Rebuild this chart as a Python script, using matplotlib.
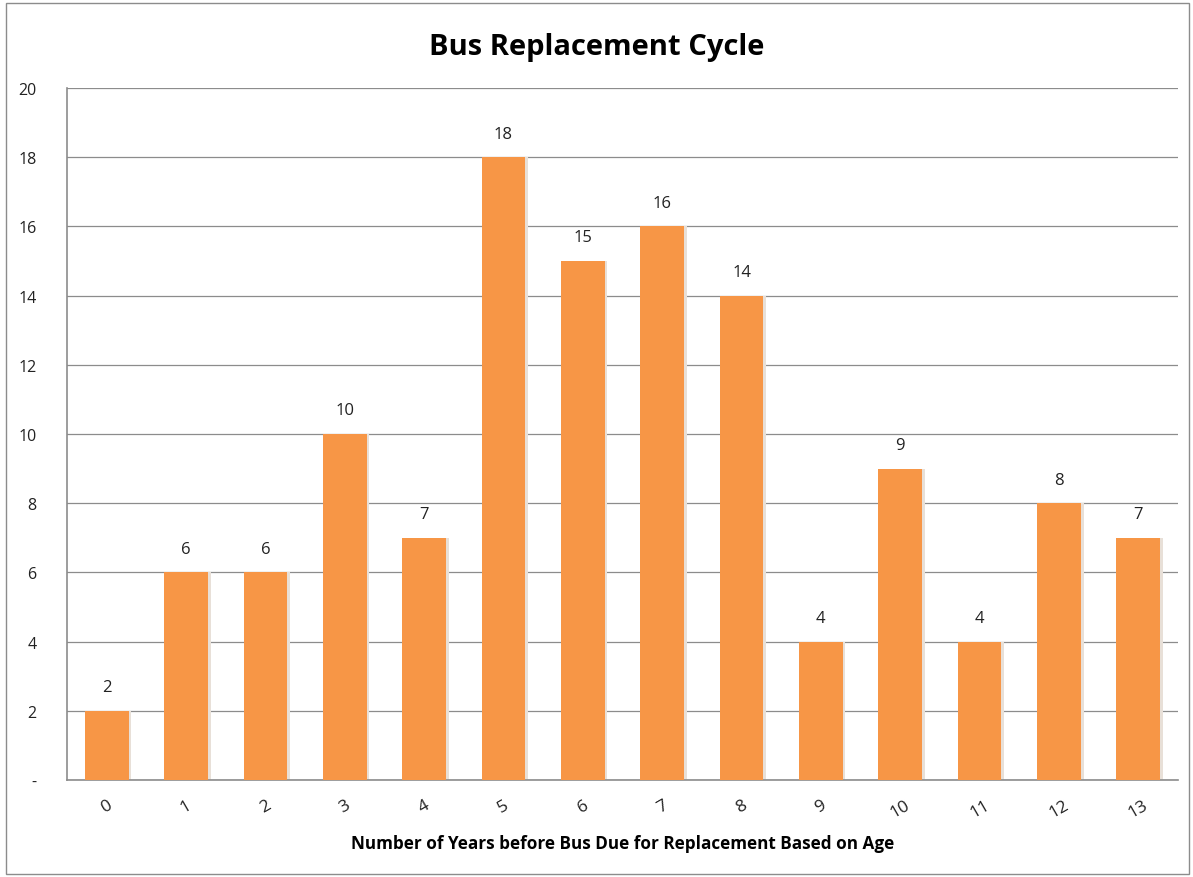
import numpy as np
import matplotlib.pyplot as plt
from matplotlib.patches import Rectangle

# years until due for replacement, and bus counts
years = ['0', '1', '2', '3', '4', '5', '6', '7', '8', '9', '10', '11', '12', '13']
buses = [2, 6, 6, 10, 7, 18, 15, 16, 14, 4, 9, 4, 8, 7]
y_ticks = [0, 2, 4, 6, 8, 10, 12, 14, 16, 18, 20]
y_labels = ['-', '2', '4', '6', '8', '10', '12', '14', '16', '18', '20']

plt.rcParams['font.family'] = ['Open Sans', 'DejaVu Sans']

fig = plt.figure(figsize=(11.93, 8.78), dpi=100)
ax = fig.add_axes([0.0562, 0.1105, 0.9312, 0.7881])

x = np.arange(len(years))
# faint shadow behind the bars
ax.bar(x + 0.03, buses, width=0.56, color='#e8e0d8', zorder=2)
ax.bar(x, buses, width=0.55, color='#F79646', zorder=3)

for i, v in enumerate(buses):
    ax.text(i, v + 0.45, str(v), ha='center', va='bottom', fontsize=12, color='#222222')

ax.set_xlim(-0.5, len(years) - 0.5)
ax.set_ylim(0, 20)
ax.set_yticks(y_ticks)
ax.set_yticklabels(y_labels, fontsize=11.5, color='#222222')
ax.set_xticks(x)
ax.set_xticklabels(years, rotation=30, fontsize=12.5, color='#222222')
ax.tick_params(axis='both', length=0)
ax.tick_params(axis='y', pad=22)
ax.tick_params(axis='x', pad=12)
ax.grid(axis='y', color='#8c8c8c', linewidth=0.9, zorder=0)

for s in ['top', 'right']:
    ax.spines[s].set_visible(False)
for s in ['left', 'bottom']:
    ax.spines[s].set_color('#8c8c8c')
    ax.spines[s].set_linewidth(1.2)

ax.set_xlabel('Number of Years before Bus Due for Replacement Based on Age',
              fontsize=12.3, fontweight='bold', labelpad=10)
fig.suptitle('Bus Replacement Cycle', fontsize=21, fontweight='bold', y=0.962)

# outer chart border
fig.patches.append(Rectangle((0.005, 0.003), 0.992, 0.992, transform=fig.transFigure,
                             fill=False, edgecolor='#8c8c8c', linewidth=1))

plt.savefig('out.png')
